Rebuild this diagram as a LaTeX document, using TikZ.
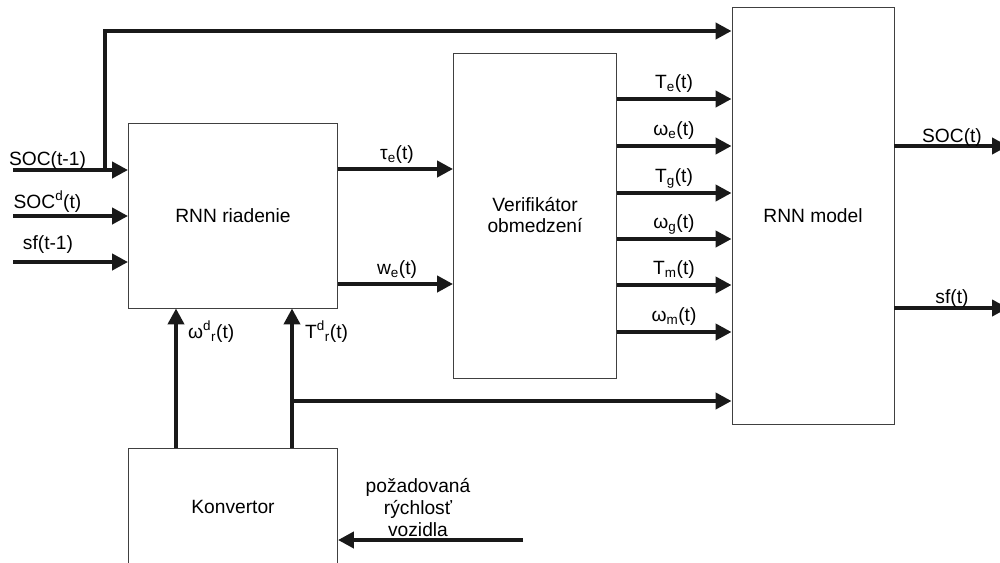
\documentclass[tikz,border=0pt]{standalone}
\usepackage{fontspec}
\setmainfont{Liberation Sans}
\usetikzlibrary{arrows.meta}
\begin{document}
\begin{tikzpicture}[x=1pt, y=-1pt, font=\fontsize{19.2}{21}\selectfont,
    blok/.style={draw=black!75, line width=0.9pt, inner sep=0pt, align=center},
    sig/.style={line width=4pt, black!90, -{Triangle[length=16pt,width=16pt]}},
    lab/.style={inner sep=0pt, anchor=base}]
    \useasboundingbox (0,0) rectangle (1000,562);
    % bloky
    \node[blok, minimum width=209pt, minimum height=185pt] (riad) at (233,215.5) {RNN riadenie};
    \node[blok, minimum width=163pt, minimum height=325pt] (verif) at (535,215.5) {Verifikátor\\obmedzení};
    \node[blok, minimum width=162pt, minimum height=417pt] (model) at (813,215.5) {RNN model};
    \node[blok, minimum width=209pt, minimum height=118pt] (konv) at (233,507) {Konvertor};
    % vstupy
    \coordinate (in1) at (13,170);
    \coordinate (in2) at (13,216);
    \coordinate (in3) at (13,262);
    \coordinate (fb) at (105,170);
    \coordinate (fbtop) at (105,31);
    \draw[sig] (in1) -- (in1 -| riad.west);
    \draw[sig] (in2) -- (in2 -| riad.west);
    \draw[sig] (in3) -- (in3 -| riad.west);
    \draw[sig] (fb) -- (fbtop) -- (fbtop -| model.west);
    \node[lab] (l1) at (47.5,165) {SOC(t-1)};
    \node[lab] (l2) at (47.5,208) {SOC\textsuperscript{d}(t)};
    \node[lab] (l3) at (48,249) {sf(t-1)};
    % RNN riadenie -> verifikator
    \draw[sig] (riad.east |- 0,169) -- (verif.west |- 0,169);
    \draw[sig] (riad.east |- 0,284) -- (verif.west |- 0,284);
    \node[lab] (tau) at (397,159) {τ\textsubscript{e}(t)};
    \node[lab] (we) at (397,274) {w\textsubscript{e}(t)};
    % verifikator -> model
    \foreach \y/\t [count=\i] in {99/T\textsubscript{e}(t), 146/ω\textsubscript{e}(t),
        193/T\textsubscript{g}(t), 239/ω\textsubscript{g}(t),
        285/T\textsubscript{m}(t), 332/ω\textsubscript{m}(t)}{
        \draw[sig] (verif.east |- 0,\y) -- (model.west |- 0,\y);
        \node[lab] (v\i) at (674,\y-11) {\t};
    }
    % vystupy
    \coordinate (out1) at (1008,146);
    \coordinate (out2) at (1008,308);
    \draw[sig] (model.east |- out1) -- (out1);
    \draw[sig] (model.east |- out2) -- (out2);
    \node[lab] (soc) at (952,142) {SOC(t)};
    \node[lab] (sf) at (952,303) {sf(t)};
    % konvertor
    \coordinate (br) at (292,401);
    \coordinate (req) at (523,540);
    \draw[sig] (konv.north -| 176,0) -- (riad.south -| 176,0);
    \draw[sig] (konv.north -| br) -- (riad.south -| br);
    \draw[sig] (br) -- (br -| model.west);
    \draw[sig] (req) -- (req -| konv.east);
    \node[lab, anchor=base west] (wr) at (188,338) {ω\textsuperscript{d}\textsubscript{r}(t)};
    \node[lab, anchor=base west] (tr) at (305,338) {T\textsuperscript{d}\textsubscript{r}(t)};
    \node[align=center, inner sep=0pt, font=\fontsize{19.2}{22}\selectfont] (poz) at (418,508) {požadovaná\\rýchlosť\\vozidla};
\end{tikzpicture}
\end{document}
